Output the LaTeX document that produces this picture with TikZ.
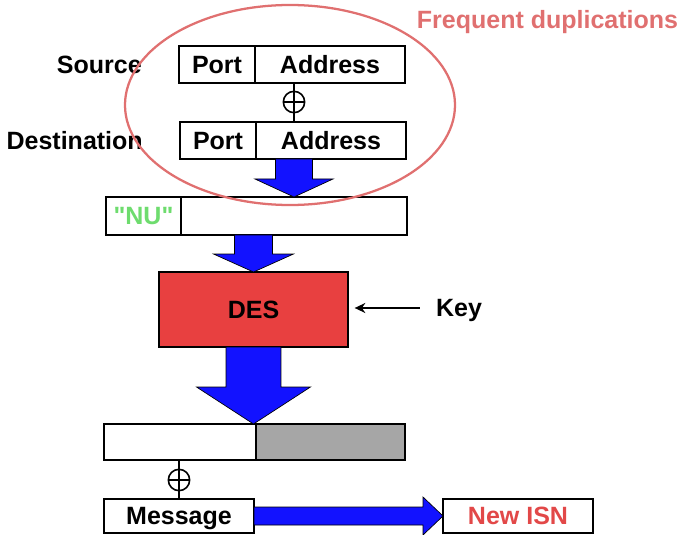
\documentclass[tikz,border=0pt]{standalone}
\usepackage{fontspec}
\setmainfont{Liberation Sans}[Ligatures=TeXOff]
\usetikzlibrary{positioning,calc,shapes.geometric,arrows.meta}

\definecolor{arrowblue}{RGB}{18,18,255}
\definecolor{desred}{RGB}{232,64,64}
\definecolor{duplred}{RGB}{224,112,112}
\definecolor{isnred}{RGB}{226,72,72}
\definecolor{nugreen}{RGB}{110,220,110}
\definecolor{cellgray}{RGB}{166,166,166}

% block arrow: from, to, shaft half width, head half width, head length
\newcommand\blockarrow[5]{%
  \coordinate (ba-from) at (#1);
  \coordinate (ba-to) at (#2);
  \coordinate (ba-base) at ($(ba-to)!#5!(ba-from)$);
  \filldraw[blockarrow]
    ($(ba-from)!#3!90:(ba-to)$) -- ($(ba-base)!#3!90:(ba-to)$)
    -- ($(ba-base)!#4!90:(ba-to)$) -- (ba-to)
    -- ($(ba-base)!#4!-90:(ba-to)$) -- ($(ba-base)!#3!-90:(ba-to)$)
    -- ($(ba-from)!#3!-90:(ba-to)$) -- cycle;
}

\tikzset{
  every node/.style={font=\fontsize{18.75}{22}\selectfont\bfseries,
    text height=13.4pt, text depth=0pt},
  cell/.style={draw, line width=1.3pt, inner sep=0pt, outer sep=0pt,
    minimum height=27.75pt},
  lbl/.style={inner sep=0pt},
  xor/.style={circle, draw, line width=1.2pt, minimum size=16pt,
    inner sep=0pt, outer sep=0pt, text height=0pt},
  dupl/.style={ellipse, draw=duplred, line width=1.7pt,
    minimum width=247.5pt, minimum height=150pt, inner sep=0pt},
  keyarrow/.style={-{Stealth[length=8pt,width=7.5pt]}, line width=1.2pt,
    shorten <=12pt, shorten >=5pt},
  blockarrow/.style={fill=arrowblue, draw=black, line width=0.5pt}
}

\begin{document}
\begin{tikzpicture}[x=0.75pt,y=-0.75pt]
  \useasboundingbox (0,0) rectangle (683,535);

  % source and destination
  \node[cell, minimum width=57pt] (srcport) at (217,64.5) {Port};
  \node[cell, minimum width=112.5pt, anchor=west] (srcaddr) at (srcport.east) {Address};
  \node[cell, minimum width=57pt] (dstport) at (218,140.5) {Port};
  \node[cell, minimum width=112.5pt, anchor=west] (dstaddr) at (dstport.east) {Address};
  \node[lbl, left=27.75pt of srcport] (src) {Source};
  \node[lbl, left=27.75pt of dstport] (dst) {Destination};

  \node[xor] (xor1) at (294,102) {};
  \draw[line width=1.2pt] (srcaddr.south -| xor1) -- (dstaddr.north -| xor1)
    (xor1.west) -- (xor1.east);

  % cipher input
  \node[cell, minimum width=56.25pt, minimum height=28.5pt, text=nugreen] (nu) at (143.5,216) {"NU"};
  \node[cell, minimum width=169.5pt, minimum height=28.5pt, anchor=west] (nurest) at (nu.east) {};

  \node[cell, fill=desred, minimum width=141.75pt, minimum height=56.25pt] (des) at (253.5,309.5) {DES};
  \node[lbl] (key) at (459,308) {Key};
  \draw[keyarrow] (key.west) -- (des.east |- key.west);

  % cipher output
  \node[cell, minimum width=114pt, minimum height=27pt] (outl) at (180,442) {};
  \node[cell, fill=cellgray, minimum width=111.75pt, minimum height=27pt, anchor=west] (outr) at (outl.east) {};

  \node[xor] (xor2) at (179,480) {};
  \node[cell, minimum width=112.5pt, minimum height=25.5pt] (msg) at (179,516) {Message};
  \node[cell, minimum width=112.5pt, minimum height=25.5pt, text=isnred] (isn) at (518,516) {New ISN};
  \draw[line width=1.2pt] (outl.south -| xor2) -- (msg.north -| xor2)
    (xor2.west) -- (xor2.east);

  \blockarrow{xor1 |- dstaddr.south}{xor1 |- nurest.north}{13.9pt}{29.25pt}{13.5pt}
  \blockarrow{des.north |- nurest.south}{des.north}{14.25pt}{30pt}{13.5pt}
  \blockarrow{des.south}{des.south |- outl.north}{20.6pt}{42.75pt}{27.75pt}
  \blockarrow{msg.east}{isn.west}{6.75pt}{14.25pt}{15pt}

  % duplicated part
  \node[dupl] (dup) at (290,105) {};
  \node[lbl, text=duplred] (freq) at (547.5,20) {Frequent duplications};
\end{tikzpicture}
\end{document}
